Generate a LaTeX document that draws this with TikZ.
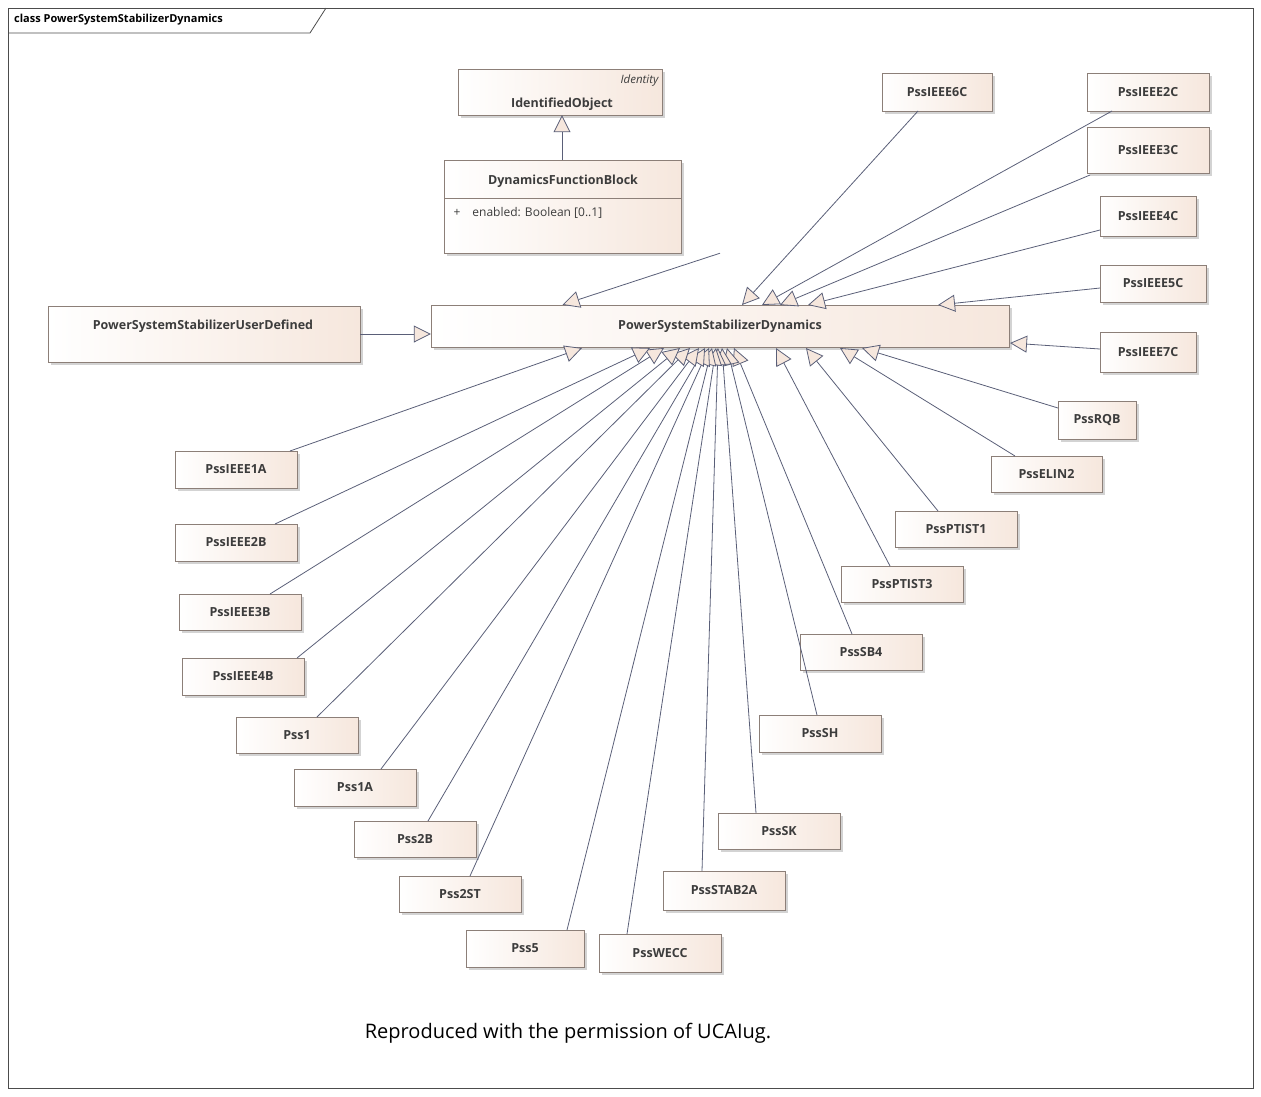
\documentclass[tikz,border=0pt]{standalone}
\usepackage{fontspec}
\setmainfont{Open Sans}
\usetikzlibrary{arrows.meta,shadows}
\definecolor{bfill}{HTML}{F6E7DD}
\definecolor{bdraw}{HTML}{8C7F78}
\definecolor{lcol}{HTML}{5A5F78}
\definecolor{tcol}{HTML}{3C3C3C}
\tikzset{
 cls/.style={draw=bdraw, left color=white, right color=bfill, inner sep=0pt,
   drop shadow={shadow xshift=3pt,shadow yshift=-3pt,opacity=0.35},
   font=\fontsize{12.5}{14}\selectfont\bfseries, text=tcol},
 gen/.style={draw=lcol, line width=0.8pt, -{Triangle[open,length=17pt,width=17pt,fill=bfill]}},
}
\newcommand\cbox[6]{\node[cls,minimum width=\dimexpr#4pt-#2pt\relax,minimum height=\dimexpr#5pt-#3pt\relax] (#1) at ({(#2+#4)/2},{(#3+#5)/2}) {#6};}
\begin{document}
\begin{tikzpicture}[x=1pt,y=-1pt]
\useasboundingbox (0,0) rectangle (1261,1096);
\draw[black!70,line width=0.8pt] (8,8) rectangle (1253,1088);
\draw[black!70,line width=0.8pt] (8,33) -- (310,33) -- (326,8);
\node[anchor=west,font=\fontsize{11}{13}\selectfont\bfseries,inner sep=0pt] (title) at (14,20) {class PowerSystemStabilizerDynamics};
% main classes
\cbox{io}{458}{69}{662}{115}{}
\node[font=\fontsize{12.5}{14}\selectfont\bfseries,text=tcol] (iot) at (562,104) {IdentifiedObject};
\node[font=\fontsize{11.5}{13}\selectfont\itshape,text=tcol,anchor=east] (ioi) at (662,81) {Identity};
\cbox{dfb}{444}{160}{681}{253}{}
\node[font=\fontsize{12.5}{14}\selectfont\bfseries,text=tcol] (dfbt) at (563,181) {DynamicsFunctionBlock};
\draw[bdraw] (444,198) -- (681,198);
\node[font=\fontsize{12}{14}\selectfont,text=tcol,anchor=west] (dfba) at (450,213) {+\hspace{12pt}enabled: Boolean [0..1]};
\cbox{pssd}{431}{305}{1009}{347}{PowerSystemStabilizerDynamics}
\cbox{ud}{48}{306}{360}{362}{}
\node[font=\fontsize{12.5}{14}\selectfont\bfseries,text=tcol] (udt) at (203,326) {PowerSystemStabilizerUserDefined};
% leaf classes
\cbox{c6c}{882}{73}{992}{111}{PssIEEE6C}
\cbox{c2c}{1087}{73}{1209}{111}{PssIEEE2C}
\cbox{c3c}{1087}{127}{1209}{173}{PssIEEE3C}
\cbox{c4c}{1100}{196}{1196}{236}{PssIEEE4C}
\cbox{c5c}{1100}{265}{1206}{302}{PssIEEE5C}
\cbox{c7c}{1100}{332}{1196}{372}{PssIEEE7C}
\cbox{rqb}{1058}{401}{1136}{439}{PssRQB}
\cbox{elin}{991}{456}{1102}{492}{PssELIN2}
\cbox{pt1}{895}{511}{1017}{547}{PssPTIST1}
\cbox{pt3}{841}{566}{963}{602}{PssPTIST3}
\cbox{sb4}{800}{634}{922}{670}{PssSB4}
\cbox{sh}{759}{715}{881}{752}{PssSH}
\cbox{sk}{718}{813}{840}{849}{PssSK}
\cbox{stab}{663}{871}{785}{910}{PssSTAB2A}
\cbox{wecc}{599}{934}{721}{972}{PssWECC}
\cbox{p5}{466}{930}{584}{967}{Pss5}
\cbox{p2st}{399}{876}{521}{912}{Pss2ST}
\cbox{p2b}{354}{821}{476}{857}{Pss2B}
\cbox{p1a}{294}{769}{416}{806}{Pss1A}
\cbox{p1}{236}{717}{358}{753}{Pss1}
\cbox{b4}{182}{658}{304}{695}{PssIEEE4B}
\cbox{b3}{179}{594}{301}{630}{PssIEEE3B}
\cbox{b2}{175}{524}{297}{561}{PssIEEE2B}
\cbox{a1}{175}{451}{297}{488}{PssIEEE1A}
% source points
\coordinate (s6c) at (918,111); \coordinate (s2c) at (1112,111); \coordinate (s3c) at (1090,175);
\coordinate (s4c) at (1100,230); \coordinate (s5c) at (1100,288); \coordinate (s7c) at (1100,349);
\coordinate (srqb) at (1058,408); \coordinate (selin) at (1015,456); \coordinate (spt1) at (938,511);
\coordinate (spt3) at (890,566); \coordinate (ssb4) at (852,634); \coordinate (ssh) at (817,715);
\coordinate (ssk) at (756,813); \coordinate (sstab) at (702,871); \coordinate (swecc) at (627,934);
\coordinate (sp5) at (567,930); \coordinate (sp2st) at (470,876); \coordinate (sp2b) at (428,821);
\coordinate (sp1a) at (381,769); \coordinate (sp1) at (317,717); \coordinate (sb4) at (297,658);
\coordinate (sb3) at (270,594); \coordinate (sb2) at (275,524); \coordinate (sa1) at (290,451);
% target points
\coordinate (t6c) at (742,305); \coordinate (t2c) at (762,305); \coordinate (t3c) at (780,305);
\coordinate (t4c) at (808,305); \coordinate (t5c) at (938,305); \coordinate (t7c) at (1010,343);
\coordinate (trqb) at (862,348); \coordinate (telin) at (840,348); \coordinate (tpt1) at (806,348);
\coordinate (tpt3) at (776,348); \coordinate (tsb4) at (734,348); \coordinate (tsh) at (727,348);
\coordinate (tsk) at (722,348); \coordinate (tstab) at (718,348); \coordinate (twecc) at (716,348);
\coordinate (tp5) at (712,348); \coordinate (tp2st) at (709,348); \coordinate (tp2b) at (705,348);
\coordinate (tp1a) at (699,348); \coordinate (tp1) at (690,348); \coordinate (tb4) at (680,348);
\coordinate (tb3) at (664,348); \coordinate (tb2) at (650,348); \coordinate (ta1) at (582,348);
\foreach \n in {6c,2c,3c,4c,5c,7c,rqb,elin,pt1,pt3,sb4,sh,sk,stab,wecc,p5,p2st,p2b,p1a,p1,b4,b3,b2,a1}
  \draw[gen] (s\n) -- (t\n);
\draw[gen] (ud.east) -- (ud.east -| pssd.west);
\draw[gen] (dfb.south -| pssd.north) -- (dfb.south |- pssd.north);
\draw[gen] (dfb.north -| iot) -- (iot |- io.south);
\node[font=\fontsize{20}{24}\selectfont] (cap) at (568,1033) {Reproduced with the permission of UCAIug.};
\end{tikzpicture}
\end{document}
